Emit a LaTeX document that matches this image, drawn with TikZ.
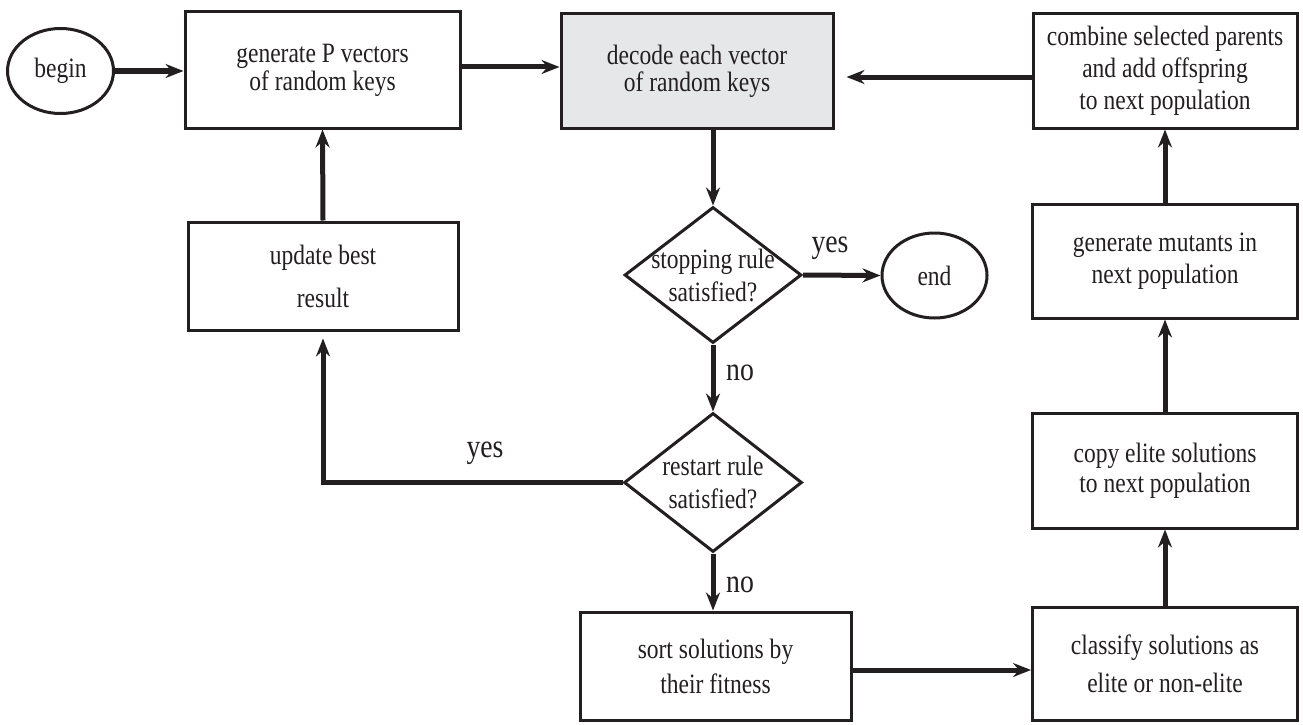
\documentclass[tikz,border=0pt]{standalone}
\usepackage{fontspec}
\setmainfont{Liberation Serif}[FakeStretch=0.84]
\usetikzlibrary{arrows.meta,shapes.geometric,calc}
\definecolor{ink}{HTML}{231F20}
\definecolor{shade}{HTML}{E6E7E8}
\begin{document}
\begin{tikzpicture}[x=1pt,y=-1pt,
  every node/.style={text=ink},
  box/.style={draw=ink, line width=3pt, rectangle, inner sep=0pt, align=center, font=\fontsize{28}{#1}\selectfont},
  box/.default=30,
  oval/.style={draw=ink, line width=3pt, ellipse, inner sep=0pt, font=\fontsize{28}{30}\selectfont},
  dia/.style={draw=ink, line width=3pt, diamond, inner sep=-30pt, align=center, font=\fontsize{28}{33}\selectfont},
  flow/.style={draw=ink, line width=5pt, -{Stealth[length=18pt,width=14pt,inset=6pt]}},
  lab/.style={font=\fontsize{33}{33}\selectfont, inner sep=0pt}
]
\useasboundingbox (0,0) rectangle (1303,725);
\fill[white] (0,0) rectangle (1303,725);

\node[oval, minimum width=106pt, minimum height=85pt] (begin) at (60.5,71) {begin};
\node[box=28, minimum width=275pt, minimum height=116pt] (gen) at (322.5,70) {generate P vectors\\of random keys};
\node[box=27, fill=shade, minimum width=272pt, minimum height=114pt] (dec) at (697,71) {decode each vector\\of random keys};
\node[box=32, minimum width=264pt, minimum height=114pt] (comb) at (1165,71) {combine selected parents\\and add offspring\\to next population};
\node[box=43, minimum width=270pt, minimum height=108pt] (upd) at (323,276) {update best\\result};
\node[dia, minimum width=177pt, minimum height=136pt] (stop) at (713,275) {stopping rule\\satisfied?};
\node[oval, minimum width=105pt, minimum height=85pt] (endn) at (934.5,275.5) {end};
\node[dia, minimum width=178pt, minimum height=139pt] (rest) at (713,482.5) {restart rule\\satisfied?};
\node[box=35, minimum width=271pt, minimum height=108pt] (sort) at (715.5,666) {sort solutions by\\their fitness};
\node[box=38, minimum width=265pt, minimum height=113pt] (clas) at (1165,663.5) {classify solutions as\\elite or non-elite};
\node[box=30, minimum width=265pt, minimum height=115pt] (copy) at (1165,470.5) {copy elite solutions\\to next population};
\node[box=32, minimum width=265pt, minimum height=114pt] (mut) at (1165,261) {generate mutants in\\next population};

\coordinate (b1) at (begin.east);
\draw[flow] (b1) -- (b1 -| gen.west);
\coordinate (g1) at ($(gen.east)+(0,-3)$);
\draw[flow] (g1) -- (g1 -| dec.west);
\coordinate (c1) at ($(comb.west)+(0,6)$);
\draw[flow, shorten >=12pt] (c1) -- (c1 -| dec.east);
\draw[flow] (stop.north |- dec.south) -- (stop.north);
\draw[flow] (stop.east) -- (endn.west);
\draw[flow] (stop.south) -- (rest.north);
\draw[flow, shorten >=7pt] (rest.west) -| (upd.south);
\draw[flow] (rest.south) -- (rest.south |- sort.north);
\coordinate (s1) at ($(sort.east)+(0,4)$);
\draw[flow] (s1) -- (s1 -| clas.west);
\draw[flow] (clas.north) -- (copy.south);
\draw[flow] (copy.north) -- (mut.south);
\draw[flow] (mut.north) -- (comb.south);
\draw[flow] (upd.north) -- (gen.south);

\node[lab] (yes1) at (830,248) {yes};
\node[lab] (no1) at (740,373) {no};
\node[lab] (yes2) at (485,453) {yes};
\node[lab] (no2) at (740,585) {no};
\end{tikzpicture}
\end{document}
